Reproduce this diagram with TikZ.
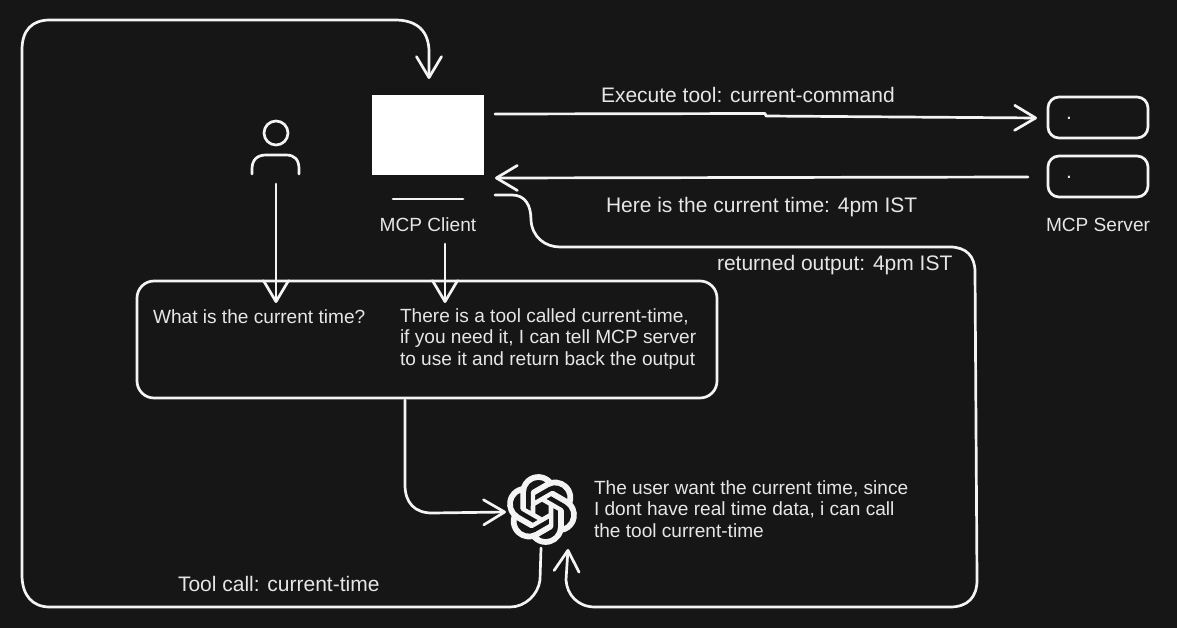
\documentclass[tikz,border=0pt]{standalone}
\usepackage{fontspec}
\setmainfont{Liberation Sans}
\usetikzlibrary{arrows.meta,svg.path}
\definecolor{bg}{HTML}{161616}
\definecolor{ink}{HTML}{F4F4F4}
\definecolor{txt}{HTML}{E6E6E6}
\tikzset{l/.style={font=\fontsize{19.1}{22}\selectfont,text=txt,inner sep=0pt,outer sep=0pt}}
\tikzset{m/.style={font=\fontsize{21}{24}\selectfont,text=txt,inner sep=0pt,outer sep=0pt}}
\tikzset{t/.style={l,anchor=west}}
\tikzset{tb/.style={m,anchor=west}}
\tikzset{c/.style={draw=ink,line width=2.7pt,line cap=round,line join=round}}
\tikzset{a/.style={c,-{Straight Barb[length=21pt,width=25pt,line width=2.7pt,round]}}}
\tikzset{srv/.style={c,rounded corners=11pt,minimum width=100pt,minimum height=41pt,inner sep=0pt}}
\begin{document}
\begin{tikzpicture}[x=1pt,y=-1pt]
  \fill[bg] (0,0) rectangle (1177,628);
  \useasboundingbox (0,0) rectangle (1177,628);
  \node[fill=white,minimum width=112pt,minimum height=80pt,inner sep=0pt,outer sep=0pt] (C) at (428,135) {};
  \node[l] (Cl) at (428,225) {MCP Client};
  \node[srv] (S1) at (1098,117.5) {};
  \node[srv] (S2) at (1098,176.5) {};
  \node[l] (Sl) at (1098,225) {MCP Server};
  \node[m,anchor=base] (D1) at (1069,119.5) {.};
  \node[m,anchor=base] (D2) at (1069,178.5) {.};
  \node[minimum width=48pt,minimum height=68pt,inner sep=0pt,outer sep=0pt] (U) at (276,150) {};
  \draw[c] (276,133) circle (12);
  \draw[c] (252,174) -- (252,169) .. controls (252,160) and (257,155) .. (266,155) -- (286,155) .. controls (295,155) and (299,160) .. (299,169) -- (299,174);
  \node[c,rounded corners=17pt,minimum width=580pt,minimum height=117pt,inner sep=0pt] (B) at (427,339.5) {};
  \node[minimum size=70pt,inner sep=0pt,outer sep=0pt] (O) at (542,509.5) {};
  \begin{scope}[shift={(O.center)},yscale=-2.9,xscale=2.9,shift={(-12pt,-12pt)}]
    \filldraw[ink,line width=1.1pt,line join=round,even odd rule] svg {M22.2819 9.8211a5.9847 5.9847 0 0 0-.5157-4.9108 6.0462 6.0462 0 0 0-6.5098-2.9A6.0651 6.0651 0 0 0 4.9807 4.1818a5.9847 5.9847 0 0 0-3.9977 2.9 6.0462 6.0462 0 0 0 .7427 7.0966 5.98 5.98 0 0 0 .511 4.9107 6.051 6.051 0 0 0 6.5146 2.9001A5.9847 5.9847 0 0 0 13.2599 24a6.0557 6.0557 0 0 0 5.7718-4.2058 5.9894 5.9894 0 0 0 3.9977-2.9001 6.0557 6.0557 0 0 0-.7475-7.0729zm-9.022 12.6081a4.4755 4.4755 0 0 1-2.8764-1.0408l.1419-.0804 4.7783-2.7582a.7948.7948 0 0 0 .3927-.6813v-6.7369l2.02 1.1686a.071.071 0 0 1 .038.052v5.5826a4.504 4.504 0 0 1-4.4945 4.4944zm-9.6607-4.1254a4.4708 4.4708 0 0 1-.5346-3.0137l.142.0852 4.783 2.7582a.7712.7712 0 0 0 .7806 0l5.8428-3.3685v2.3324a.0804.0804 0 0 1-.0332.0615L9.74 19.9502a4.4992 4.4992 0 0 1-6.1408-1.6464zM2.3408 7.8956a4.485 4.485 0 0 1 2.3655-1.9728V11.6a.7664.7664 0 0 0 .3879.6765l5.8144 3.3543-2.0201 1.1685a.0757.0757 0 0 1-.071 0l-4.8303-2.7865A4.504 4.504 0 0 1 2.3408 7.872zm16.5963 3.8558L13.1038 8.364 15.1192 7.2a.0757.0757 0 0 1 .071 0l4.8303 2.7913a4.4944 4.4944 0 0 1-.6765 8.1042v-5.6772a.79.79 0 0 0-.407-.667zm2.0107-3.0231l-.142-.0852-4.7735-2.7818a.7759.7759 0 0 0-.7854 0L9.409 9.2297V6.8974a.0662.0662 0 0 1 .0284-.0615l4.8303-2.7866a4.4992 4.4992 0 0 1 6.6802 4.66zM8.3065 12.863l-2.02-1.1638a.0804.0804 0 0 1-.038-.0567V6.0742a4.4992 4.4992 0 0 1 7.3757-3.4537l-.142.0805L8.704 5.459a.7948.7948 0 0 0-.3927.6813z};
    \fill[bg] svg {M9.7 10.7L12 9.35L14.3 10.7L14.3 13.3L12 14.65L9.7 13.3Z};
  \end{scope}
  \coordinate (C1) at (495,114);
  \coordinate (S1w) at (1037,118);
  \coordinate (S2w) at (1028,177);
  \coordinate (C2) at (495,178);
  \coordinate (C3) at (495,195);
  \coordinate (Ub) at (276,303);
  \coordinate (Cb) at (445,303);
  \coordinate (Clb) at (445,244);
  \coordinate (Ob) at (541,548);
  \coordinate (Oc) at (568,549);
  \coordinate (Ow) at (506,512);
  \coordinate (Ct) at (429,79);
  \coordinate (Bb) at (405,400);
  \draw[a] (C1) -- (765,113.5) -- (766,116) -- (S1w);
  \draw[a] (S2w) -- (C2);
  \draw[a] (Clb) -- (Cb);
  \draw[a] (U.south) -- (Ub);
  \draw[a] (Bb) -- (405,485) .. controls (405,503) and (415,513) .. (432,513) -- (Ow);
  \draw[a] (Ob) -- (540,580) .. controls (538,595) and (525,607) .. (510,607) -- (50,607) .. controls (32,607) and (22,595) .. (22,575) -- (22,50) .. controls (22,30) and (32,20) .. (50,20) -- (395,20) .. controls (418,20) and (429,32) .. (429,52) -- (Ct);
  \draw[a] (C3) -- (512,195) .. controls (525,195) and (531,205) .. (531,220) .. controls (532,237) and (545,247) .. (560,247) -- (950,247) .. controls (966,247) and (975,256) .. (975,272) -- (977,580) .. controls (977,597) and (968,607) .. (950,607) -- (595,607) .. controls (578,607) and (567,595) .. (566,580) -- (Oc);
  \node[tb] (Ex) at (601,95) {Execute tool: current-command};
  \node[tb] (He) at (606,207) {Here is the current time: 4pm IST};
  \node[tb] (Re) at (717,265) {returned output: 4pm IST};
  \node[t] (Wh) at (153,317) {What is the current time?};
  \node[t] (Th1) at (400,317) {There is a tool called current-time,};
  \node[t] (Th2) at (400,339) {if you need it, I can tell MCP server};
  \node[t] (Th3) at (400,361) {to use it and return back the output};
  \node[t] (Us1) at (594,489) {The user want the current time, since};
  \node[t] (Us2) at (594,510) {I dont have real time data, i can call};
  \node[t] (Us3) at (594,531) {the tool current-time};
  \node[tb] (To) at (178,584) {Tool call: current-time};
  \draw[c] (393,199) -- (463,199);
\end{tikzpicture}
\end{document}
